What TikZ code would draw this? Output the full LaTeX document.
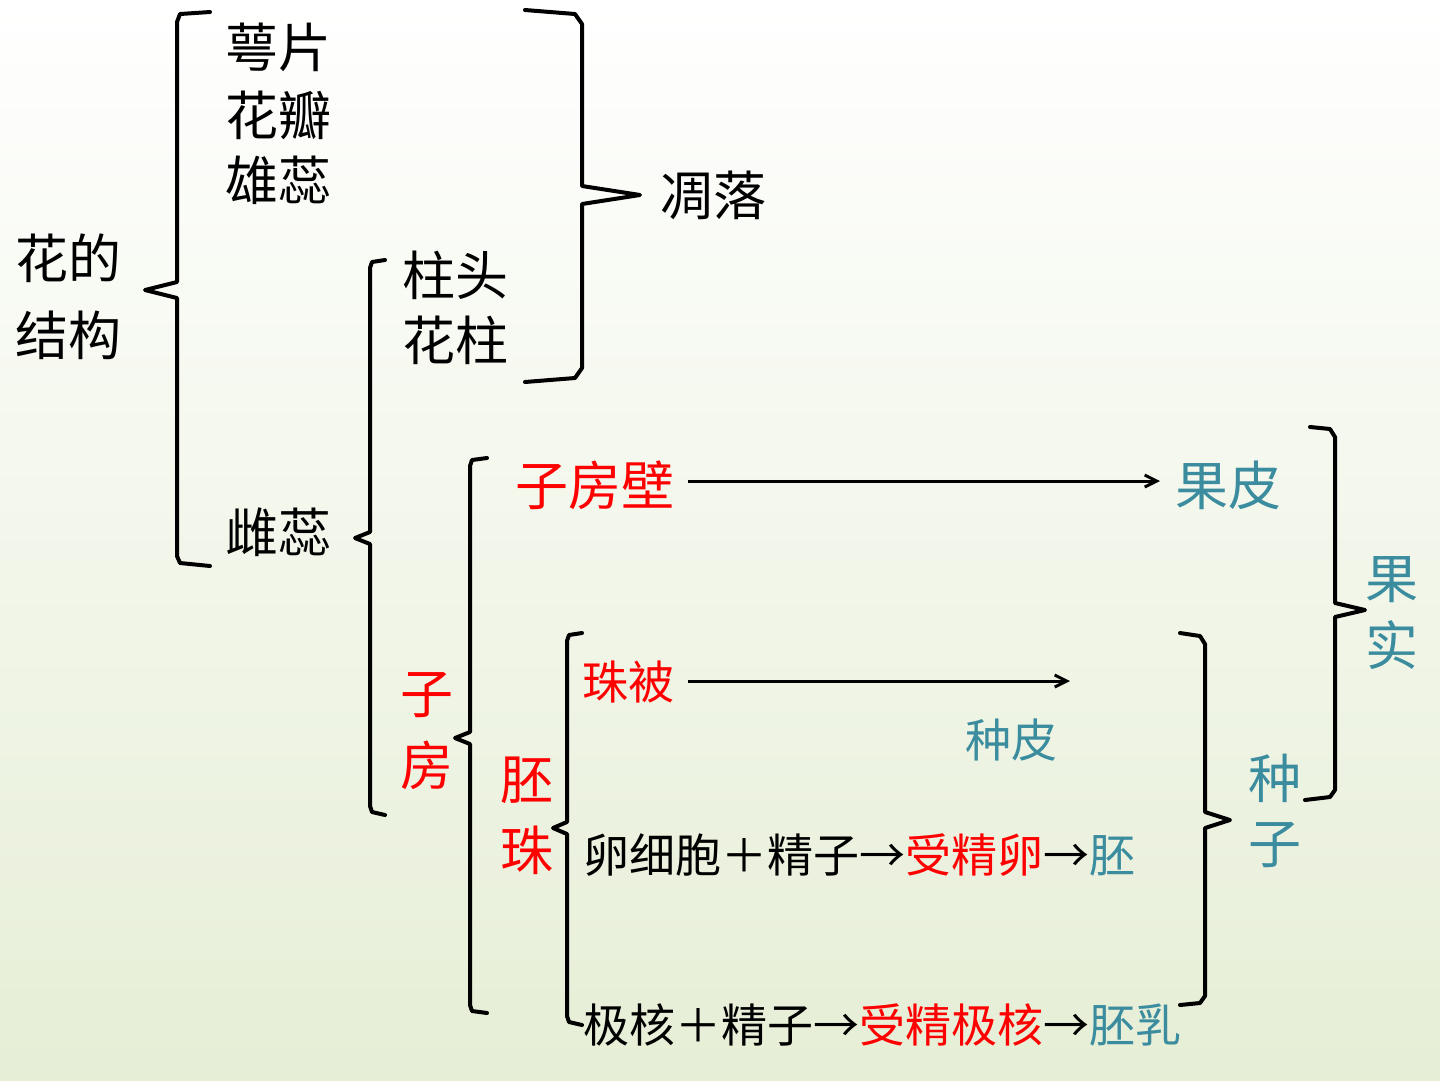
\documentclass[tikz,border=0pt]{standalone}
\usepackage{fontspec}
\setmainfont{Noto Sans CJK SC}
\usetikzlibrary{arrows.meta}
\definecolor{teal2}{HTML}{3A8C9E}
\definecolor{bgb}{HTML}{E6EED6}
\begin{document}
\begin{tikzpicture}[x=1pt,y=-1pt,
  br/.style={line width=4pt,line join=round,line cap=round},
  t/.style={anchor=west,inner sep=0pt,font=\fontsize{53}{55}\selectfont},
  s/.style={anchor=west,inner sep=0pt,font=\fontsize{46}{48}\selectfont},
  ar/.style={line width=3pt,-{Straight Barb[length=12pt,width=12pt]}}]
\shade[top color=white,bottom color=bgb] (0,0) rectangle (1440,1080);
\useasboundingbox (0,0) rectangle (1440,1080);
% brackets
\draw[br] (210,12) -- (180,14) -- (177,22) -- (177,282) -- (145,290) -- (177,298) -- (177,556) -- (180,563) -- (210,566);
\draw[br] (525,10) -- (575,14) -- (582,24) -- (582,186) -- (640,195) -- (582,204) -- (582,368) -- (575,378) -- (525,382);
\draw[br] (385,260) -- (372,262) -- (370,268) -- (370,532) -- (355,538) -- (370,544) -- (370,806) -- (372,812) -- (385,815);
\draw[br] (487,458) -- (472,460) -- (470,466) -- (470,732) -- (455,738) -- (470,744) -- (470,1005) -- (472,1011) -- (487,1013);
\draw[br] (582,633) -- (569,635) -- (567,641) -- (567,822) -- (553,828) -- (567,834) -- (567,1016) -- (569,1022) -- (582,1025);
\draw[br] (1180,633) -- (1200,636) -- (1205,644) -- (1205,812) -- (1230,820) -- (1205,828) -- (1205,996) -- (1200,1003) -- (1180,1005);
\draw[br] (1310,427) -- (1330,429) -- (1335,437) -- (1335,603) -- (1365,610) -- (1335,617) -- (1335,790) -- (1330,797) -- (1305,800);
% texts
\node[t] (a1) at (225,47) {萼片};
\node[t] (a2) at (225,115) {花瓣};
\node[t] (a3) at (225,180) {雄蕊};
\node[t] (dl) at (660,195) {凋落};
\node[t] (h1) at (15,258) {花的};
\node[t] (h2) at (15,335) {结构};
\node[t] (z1) at (402,275) {柱头};
\node[t] (z2) at (402,340) {花柱};
\node[t] (cr) at (225,532) {雌蕊};
\node[t,text=red] (zfb) at (515,485) {子房壁};
\node[t,text=teal2] (gp) at (1175,485) {果皮};
\node[t,text=teal2] (g1) at (1365,580) {果};
\node[t,text=teal2] (g2) at (1365,645) {实};
\node[s,text=red] (zb) at (582,682) {珠被};
\node[s,text=teal2] (zp) at (965,740) {种皮};
\node[t,text=teal2] (s1) at (1248,778) {种};
\node[t,text=teal2] (s2) at (1248,845) {子};
\node[t,text=red] (f1) at (400,695) {子};
\node[t,text=red] (f2) at (400,765) {房};
\node[t,text=red] (p1) at (500,780) {胚};
\node[t,text=red] (p2) at (500,850) {珠};
\node[s] (l1) at (583,855) {卵细胞＋精子→\textcolor{red}{受精卵}→\textcolor{teal2}{胚}};
\node[s] (l2) at (583,1025) {极核＋精子→\textcolor{red}{受精极核}→\textcolor{teal2}{胚乳}};
\coordinate (s1a) at (688,481);
\coordinate (e1) at (1160,481);
\coordinate (e2) at (1070,681);
\draw[ar] (s1a) -- (e1);
\draw[ar] (688,681) -- (e2);
\end{tikzpicture}
\end{document}
